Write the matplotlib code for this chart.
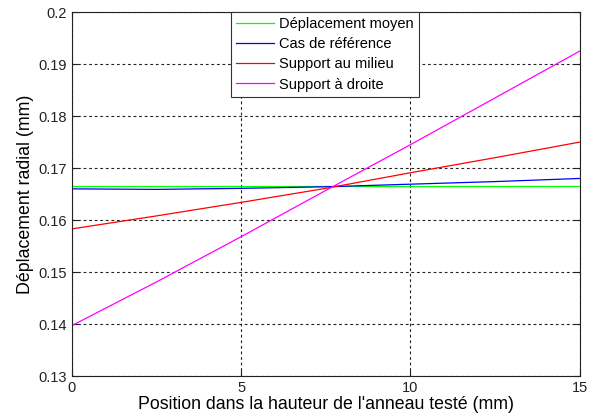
import matplotlib
matplotlib.use("Agg")
import matplotlib.pyplot as plt
from matplotlib.ticker import FormatStrFormatter

# data
x = [0, 2.5, 5, 7.5, 10, 12.5, 15]
moyen = [0.1665, 0.1665, 0.1665, 0.1665, 0.1665, 0.1665, 0.1665]
reference = [0.1660, 0.1659, 0.1661, 0.1664, 0.1669, 0.1674, 0.1680]
milieu = [0.1583, 0.1608, 0.1634, 0.1661, 0.1691, 0.1720, 0.1750]
droite = [0.1397, 0.1481, 0.1568, 0.1657, 0.1745, 0.1835, 0.1925]
labels = ["Déplacement moyen", "Cas de référence", "Support au milieu", "Support à droite"]
colors = ["#00ff00", "#0000ff", "#ff0000", "#ff00ff"]

plt.rcParams['font.family'] = ['Liberation Sans', 'DejaVu Sans']

fig = plt.figure(figsize=(5.94, 4.19), dpi=100)
ax = fig.add_axes([0.121, 0.1026, 0.855, 0.8685])

for y, lab, c in zip([moyen, reference, milieu, droite], labels, colors):
    ax.plot(x, y, color=c, linewidth=0.9, label=lab)

ax.set_xlim(0, 15)
ax.set_ylim(0.13, 0.2)
ax.set_xticks([0, 5, 10, 15])
ax.set_yticks([0.13, 0.14, 0.15, 0.16, 0.17, 0.18, 0.19, 0.2])
ax.yaxis.set_major_formatter(FormatStrFormatter('%g'))
ax.tick_params(direction='in', labelsize=10.5, top=True, right=True, length=4, colors='#222222')
ax.grid(True, color='#222222', linestyle=(0, (2.5, 2.5)), linewidth=0.8)
for s in ax.spines.values():
    s.set_linewidth(0.8)
    s.set_color('#222222')

ax.set_xlabel("Position dans la hauteur de l'anneau testé (mm)", fontsize=12.8, labelpad=1)
ax.set_ylabel("Déplacement radial (mm)", fontsize=12.8, labelpad=3)

lgd = ax.legend(loc='upper left', bbox_to_anchor=(0.313, 1.0), fontsize=10.5,
                fancybox=False, framealpha=1, edgecolor='#333333', borderaxespad=0,
                handlelength=2.6, handletextpad=0.35, labelspacing=0.42, borderpad=0.35)
lgd.get_frame().set_linewidth(0.8)

fig.savefig('out.png', dpi=100)
